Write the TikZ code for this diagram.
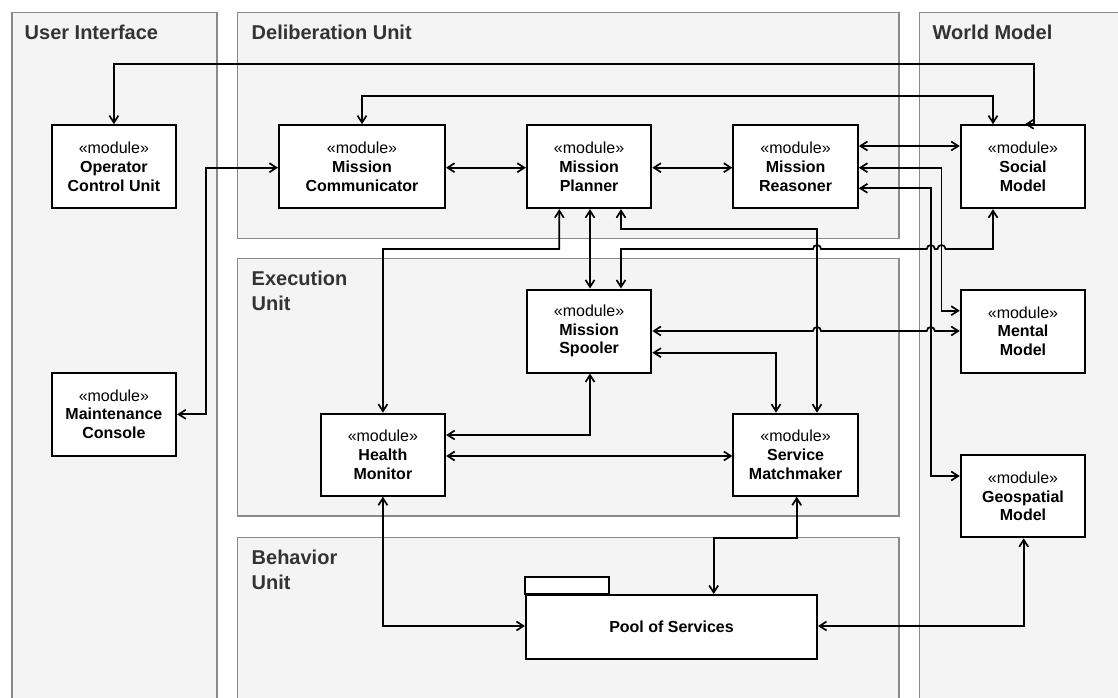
\documentclass[tikz,border=0pt]{standalone}
\usepackage{fontspec}
\setmainfont{Liberation Sans}
\usetikzlibrary{arrows.meta,calc}
\definecolor{panelfill}{HTML}{F4F4F4}
\definecolor{panelline}{HTML}{8A8A8A}
\definecolor{titlegray}{HTML}{333333}

\begin{document}
\begin{tikzpicture}[x=1pt,y=-1pt,
  panel/.style={draw=panelline, fill=panelfill, line width=1.4pt},
  ptitle/.style={anchor=base west, inner sep=0pt, align=left, text=titlegray,
    font=\fontsize{20}{24.3}\selectfont\bfseries},
  module/.style={draw, fill=white, line width=2pt, minimum width=124.5pt,
    minimum height=83pt, inner sep=0pt, align=center,
    font=\fontsize{16}{18.7}\selectfont},
  tip/.tip={Straight Barb[length=7pt,width=9pt]},
  wire/.style={line width=1.7pt},
  conn/.style={wire, tip-tip}
]
\useasboundingbox (0,0) rectangle (1118,698);
\clip (0,0) rectangle (1118,698);

% package frames
\draw[panel] (11.8,12.3) rectangle (217.1,710);
\draw[panel] (237.5,12.3) rectangle (899.1,238.3);
\draw[panel] (919.4,12.3) rectangle (1130,710);
\draw[panel] (237.5,258.3) rectangle (899.1,516);
\draw[panel] (237.5,537.3) rectangle (899.1,710);

% frame titles (base anchor sits on the last line)
\node[ptitle] (tui) at (24.5,39.5) {User Interface};
\node[ptitle] (tdu) at (251.5,39.5) {Deliberation Unit};
\node[ptitle] (twm) at (932.5,39.5) {World Model};
\node[ptitle] (teu) at (251.5,310) {Execution\\Unit};
\node[ptitle] (tbu) at (251.5,589) {Behavior\\Unit};

% modules
\node[module] (op) at (113.9,166.7) {«module»\\\textbf{Operator}\\\textbf{Control Unit}};
\node[module] (maint) at (113.9,414) {«module»\\\textbf{Maintenance}\\\textbf{Console}};
\node[module, minimum width=166pt] (mc) at (362,166.7) {«module»\\\textbf{Mission}\\\textbf{Communicator}};
\node[module] (mp) at (589.1,166.7) {«module»\\\textbf{Mission}\\\textbf{Planner}};
\node[module] (mr) at (795.6,166.7) {«module»\\\textbf{Mission}\\\textbf{Reasoner}};
\node[module] (social) at (1023,166.7) {«module»\\\textbf{Social}\\\textbf{Model}};
\node[module] (spooler) at (589.1,331) {«module»\\\textbf{Mission}\\\textbf{Spooler}};
\node[module] (mental) at (1023,331) {«module»\\\textbf{Mental}\\\textbf{Model}};
\node[module, minimum height=82pt] (hm) at (382.9,454.7) {«module»\\\textbf{Health}\\\textbf{Monitor}};
\node[module, minimum height=82pt] (sm) at (795.6,454.7) {«module»\\\textbf{Service}\\\textbf{Matchmaker}};
\node[module, minimum height=82pt] (geo) at (1023,496.3) {«module»\\\textbf{Geospatial}\\\textbf{Model}};

% package with tab
\node[draw, fill=white, line width=2pt, minimum width=291pt, minimum height=64.3pt,
  inner sep=0pt, font=\fontsize{16}{18.7}\selectfont\bfseries] (pool) at (671.5,627.2) {Pool of Services};
\draw[fill=white, line width=2pt] (pool.north west) rectangle ($(pool.north west)+(83.8,-16.7)$);

% connectors
\draw[wire, -tip] (social.north -| 1034,0) -- (1034,64.3) -- (op.north |- 0,64.3) -- (op.north);
\draw[wire, -tip] (social.north -| 1034,0) -- (social.north -| 1025,0);
\draw[conn] (mc.north) -- (mc.north |- 0,95.7) -| (social.north -| 993,0);
\draw[conn] (mc.east |- 0,167.7) -- (mp.west |- 0,167.7);
\draw[conn] (maint.east |- 0,414.3) -| (206,167.7) -- (mc.west |- 0,167.7);
\draw[conn] (mp.east |- 0,167.7) -- (mr.west |- 0,167.7);
\draw[conn] (mr.east |- 0,146) -- (social.west |- 0,146);
\draw[conn] (mr.east |- 0,167.7) -| (941.5,310.7) -- (mental.west |- 0,310.7);
\draw[conn] (mr.east |- 0,188.3) -| (930.8,476) -- (geo.west |- 0,476);
\draw[conn] (mp.south -| 559.3,0) |- (383,249) -- (hm.north);
\draw[conn] (mp.south -| 590,0) -- (spooler.north -| 590,0);
\draw[conn] (mp.south -| 621,0) |- (817,229.3) -- (sm.north -| 817,0);
\draw[conn] (spooler.north -| 621,0) -- (621,249) -- (813,249)
  arc[start angle=180,end angle=0,radius=4pt] -- (926.8,249)
  arc[start angle=180,end angle=0,radius=4pt] -- (937.5,249)
  arc[start angle=180,end angle=0,radius=4pt] -- (993,249) -- (social.south -| 993,0);
\draw[conn] (spooler.east |- 0,331) -- (813,331)
  arc[start angle=180,end angle=0,radius=4pt] -- (926.8,331)
  arc[start angle=180,end angle=0,radius=4pt] -- (mental.west |- 0,331);
\draw[conn] (spooler.east |- 0,352.7) -| (sm.north -| 776,0);
\draw[conn] (hm.east |- 0,435) -| (spooler.south -| 590,0);
\draw[conn] (hm.east |- 0,456) -- (sm.west |- 0,456);
\draw[conn] (hm.south) |- (pool.west |- 0,626);
\draw[conn] (sm.south -| 796.7,0) |- (713.7,537.7) -- (pool.north -| 713.7,0);
\draw[conn] (pool.east |- 0,626) -| (geo.south -| 1023.7,0);
\end{tikzpicture}
\end{document}
